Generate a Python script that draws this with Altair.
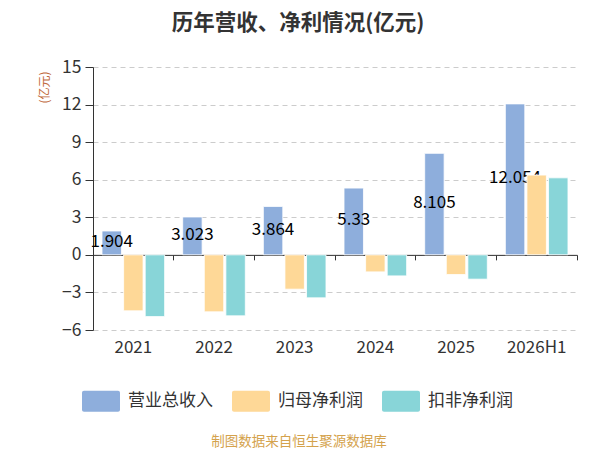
import altair as alt
import pandas as pd

years = ["2021", "2022", "2023", "2024", "2025", "2026H1"]
series = ["营业总收入", "归母净利润", "扣非净利润"]
revenue = [1.904, 3.023, 3.864, 5.33, 8.105, 12.054]
revenue_labels = ["1.904", "3.023", "3.864", "5.33", "8.105", "12.054"]
parent_profit = [-4.47, -4.55, -2.74, -1.36, -1.57, 6.37]
deducted_profit = [-4.93, -4.87, -3.43, -1.68, -1.94, 6.15]
colors = ["#8eaedc", "#fed897", "#88d5d8"]
y_ticks = [-6, -3, 0, 3, 6, 9, 12, 15]

rows = []
for i, y in enumerate(years):
    rows.append({"year": y, "series": series[0], "value": revenue[i], "label": revenue_labels[i]})
    rows.append({"year": y, "series": series[1], "value": parent_profit[i], "label": ""})
    rows.append({"year": y, "series": series[2], "value": deducted_profit[i], "label": ""})
df = pd.DataFrame(rows)

FONT = "Noto Sans CJK SC"

x_scale = alt.Scale(domain=years, paddingInner=0, paddingOuter=0)
xo_scale = alt.Scale(domain=series, paddingInner=0.1, paddingOuter=0.418)
y_scale = alt.Scale(domain=[-6, 15], nice=False, zero=False)
color_scale = alt.Scale(domain=series, range=colors)

legend = alt.Legend(
    title=None, orient="none", legendX=-2, legendY=324, direction="horizontal",
    columns=3, columnPadding=19, labelFontSize=17, labelColor="#333", labelFont=FONT,
    symbolType="M-1.7,-1.05 h3.4 a0.2,0.2 0 0 1 0.2,0.2 v1.7 a0.2,0.2 0 0 1 -0.2,0.2 h-3.4 a0.2,0.2 0 0 1 -0.2,-0.2 v-1.7 a0.2,0.2 0 0 1 0.2,-0.2 z",
    symbolSize=400, symbolStrokeWidth=0, symbolOpacity=1, labelOffset=17, padding=0,
)

x_label_axis = alt.Axis(
    orient="bottom", title=None, labelAngle=0, labelFontSize=17, labelColor="#333",
    labelFont=FONT, domain=False, ticks=False, grid=False, labelPadding=9,
)
x_zero_axis = alt.Axis(
    orient="bottom", title=None, labels=False, domain=True, domainColor="#333",
    domainWidth=1, ticks=True, tickColor="#333", tickSize=5, tickWidth=1,
    bandPosition=1, grid=False, offset=-75.14,
)
y_axis = alt.Axis(
    values=y_ticks, title="(亿元)", titleFontSize=12, titleColor="#c0683a",
    titleFont=FONT, titleFontWeight="normal", titleAngle=-90, titleX=-49, titleY=20,
    titleAlign="center", titleBaseline="middle",
    labelFontSize=17.5, labelColor="#333", labelFont=FONT, labelPadding=4,
    labelOverlap=False, labelBound=False,
    domainColor="#333", tickColor="#333", tickSize=8,
    grid=True, gridColor="#cccccc", gridDash=[5, 4], gridWidth=1,
)

base = alt.Chart(df)

bars_rev = base.transform_filter(alt.datum.series == series[0]).mark_bar(
    stroke="white", strokeWidth=0.8
).encode(
    x=alt.X("year:N", scale=x_scale, axis=x_label_axis, sort=years),
    xOffset=alt.XOffset("series:N", scale=xo_scale, sort=series),
    y=alt.Y("value:Q", scale=y_scale, axis=y_axis),
    color=alt.Color("series:N", scale=color_scale, legend=legend, sort=series),
)

text = base.transform_filter(alt.datum.series == series[0]).transform_calculate(
    mid="datum.value / 2"
).mark_text(fontSize=17, color="#000", font=FONT, align="center", baseline="middle", dy=-1).encode(
    x=alt.X("year:N", scale=x_scale, axis=x_zero_axis, sort=years),
    xOffset=alt.XOffset("series:N", scale=xo_scale, sort=series),
    y=alt.Y("mid:Q", scale=y_scale, axis=y_axis),
    text="label:N",
)

bars_other = base.transform_filter(alt.datum.series != series[0]).mark_bar(
    stroke="white", strokeWidth=0.8
).encode(
    x=alt.X("year:N", scale=x_scale, axis=None, sort=years),
    xOffset=alt.XOffset("series:N", scale=xo_scale, sort=series),
    y=alt.Y("value:Q", scale=y_scale, axis=y_axis),
    color=alt.Color("series:N", scale=color_scale, legend=legend, sort=series),
)

footer = alt.Chart(pd.DataFrame({"t": ["制图数据来自恒生聚源数据库"]})).mark_text(
    fontSize=13.5, color="#d4a24c", font=FONT, align="center", baseline="middle"
).encode(text="t:N", x=alt.value(206), y=alt.value(375))

chart = alt.layer(bars_rev, text, bars_other, footer).resolve_axis(x="independent").properties(
    width=484, height=263,
    padding={"left": 85, "top": 59, "right": 15, "bottom": 120},
    autosize=alt.AutoSizeParams(type="none"),
    title=alt.TitleParams(
        "历年营收、净利情况(亿元)", fontSize=21.5, fontWeight="bold", color="#333",
        font=FONT, anchor="middle", dx=-37, offset=24,
    ),
).configure_view(stroke=None).configure_axis(labelFont=FONT)

chart.save("out.html", embed_options={"renderer": "svg", "actions": False})
